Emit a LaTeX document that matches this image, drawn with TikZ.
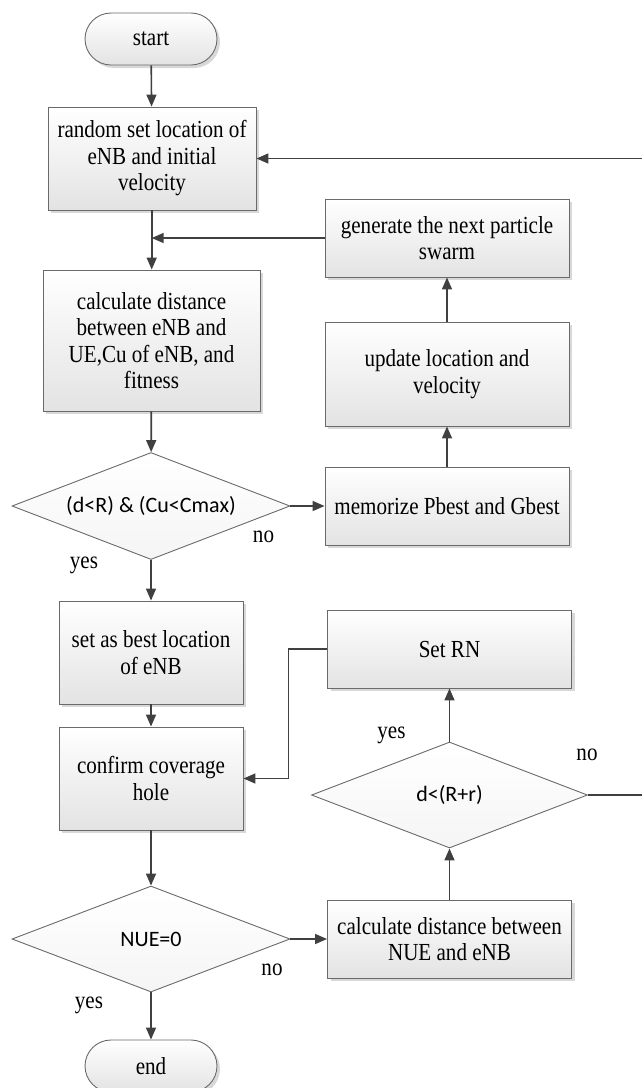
\documentclass[tikz,border=0pt]{standalone}
\usepackage{fontspec}
\setmainfont{Liberation Serif}[FakeStretch=0.86]
\newfontfamily\calib{Carlito}
\usetikzlibrary{shapes.geometric,arrows.meta,shadows}
\definecolor{edgegray}{HTML}{6A6A6A}
\definecolor{linegray}{HTML}{404040}
\begin{document}
\begin{tikzpicture}[x=1pt,y=-1pt,
  every node/.style={font=\fontsize{24.5}{26.5}\selectfont},
  procbox/.style={rectangle, draw=edgegray, line width=0.9pt, top color=white, bottom color=black!11,
    drop shadow={shadow xshift=3pt, shadow yshift=-3pt, fill=black!30, opacity=0.5},
    align=center, inner sep=2pt},
  termbox/.style={procbox, rounded corners=26pt, minimum width=132pt, minimum height=52pt},
  decbox/.style={diamond, draw=edgegray, line width=0.9pt, top color=white, bottom color=black!4,
    aspect=2.6, inner sep=0pt, minimum width=278pt, minimum height=107pt,
    font=\calib\fontsize{22}{26}\selectfont},
  flow/.style={draw=linegray, line width=1.6pt, -{Triangle[width=10pt,length=12pt]}},
  lbl/.style={inner sep=0pt}
]
\useasboundingbox (0,0) rectangle (642,1088);
\clip (0,0) rectangle (642,1088);

\node[termbox] (start) at (151,39) {start};
\node[procbox, minimum width=208pt, minimum height=103pt] (rand) at (152,158.5)
  {random set location of\\eNB and initial\\velocity};
\node[procbox, minimum width=244pt, minimum height=78pt] (gen) at (447,238)
  {generate the next particle\\swarm};
\node[procbox, minimum width=217pt, minimum height=141pt] (calc) at (151.5,340.5)
  {calculate distance\\between eNB and\\UE,Cu of eNB, and\\fitness};
\node[procbox, minimum width=244pt, minimum height=104pt] (upd) at (447,374)
  {update location and\\velocity};
\node[decbox] (dia1) at (151,506) {(d<R) \& (Cu<Cmax)};
\node[procbox, minimum width=244pt, minimum height=78pt] (mem) at (447,506)
  {memorize Pbest and Gbest};
\node[procbox, minimum width=184pt, minimum height=103pt] (best) at (151,652.5)
  {set as best location\\of eNB};
\node[procbox, minimum width=244pt, minimum height=78pt] (setrn) at (449.5,649) {Set RN};
\node[procbox, minimum width=184pt, minimum height=103pt] (confirm) at (151,778.5)
  {confirm coverage\\hole};
\node[decbox, minimum width=276pt, minimum height=106pt] (dia2) at (449.5,795) {d<(R+r)};
\node[decbox, minimum height=106pt] (nue) at (151,939) {NUE=0};
\node[procbox, minimum width=244pt, minimum height=78pt] (calc2) at (449.5,939)
  {calculate distance between\\NUE and eNB};
\node[termbox] (end) at (151,1066) {end};

\node[lbl] (no1) at (263.5,537) {no};
\node[lbl] (yes1) at (84,565) {yes};
\node[lbl] (yes2) at (391.5,735) {yes};
\node[lbl] (no2) at (587,755) {no};
\node[lbl] (no3) at (272,970) {no};
\node[lbl] (yes3) at (89,1005) {yes};

\coordinate (jn) at (151.7,238);
\coordinate (k1) at (288.6,649);
\coordinate (r1) at (680,795);
\coordinate (r2) at (680,158.5);

\draw[flow] (start) -- (rand);
\draw[flow] (rand.south -| jn) -- (calc.north -| jn);
\draw[flow] (gen.west) -- (jn);
\draw[flow] (calc) -- (dia1);
\draw[flow] (dia1.east) -- (mem.west);
\draw[flow] (mem) -- (upd);
\draw[flow] (upd) -- (gen);
\draw[flow] (dia1.south) -- (best.north);
\draw[flow] (best) -- (confirm);
\draw[flow] (setrn.west) -- (k1) |- (confirm.east);
\draw[flow] (confirm) -- (nue.north);
\draw[flow] (nue.east) -- (calc2.west);
\draw[flow] (calc2.north) -- (dia2.south);
\draw[flow] (dia2.north) -- (setrn.south);
\draw[flow] (dia2.east) -- (r1) -- (r2) -- (rand.east);
\draw[flow] (nue.south) -- (end.north);
\end{tikzpicture}
\end{document}
